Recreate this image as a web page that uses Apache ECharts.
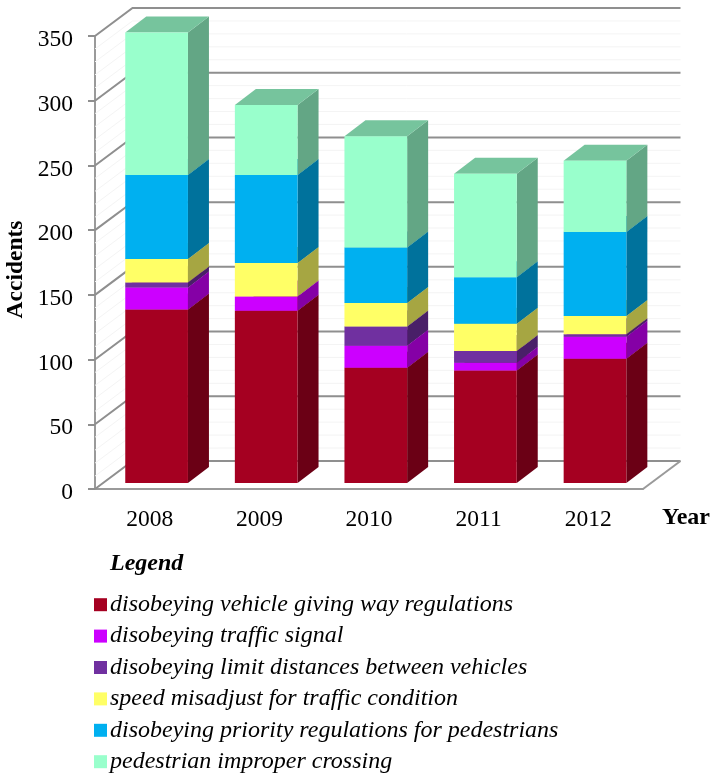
<!DOCTYPE html>
<html>
<head>
<meta charset="utf-8">
<title>Accidents</title>
<script src="https://cdn.jsdelivr.net/npm/echarts@6/dist/echarts.min.js"></script>
<style>
html, body { margin: 0; padding: 0; background: #fff; }
#chart { width: 713px; height: 777px; }
</style>
</head>
<body>
<div id="chart"></div>
<script>
const years = ['2008', '2009', '2010', '2011', '2012'];
const yTicks = [0, 50, 100, 150, 200, 250, 300, 350];
const yMinor = [10, 20, 30, 40, 60, 70, 80, 90, 110, 120, 130, 140, 160, 170, 180, 190, 210, 220, 230, 240, 260, 270, 280, 290, 310, 320, 330, 340];

const givingWay = [134, 133, 89, 87, 96];
const trafficSignal = [17, 11, 17, 6, 17];
const limitDistances = [4, 0, 15, 9, 2];
const speedMisadjust = [18, 26, 18, 21, 14];
const priorityPedestrians = [65, 68, 43, 36, 65];
const improperCrossing = [110, 54, 86, 80, 55];

const names = [
    'disobeying vehicle giving way regulations',
    'disobeying traffic signal',
    'disobeying limit distances between vehicles',
    'speed misadjust for traffic condition',
    'disobeying priority regulations for pedestrians',
    'pedestrian improper crossing'
];
const stacks = [givingWay, trafficSignal, limitDistances, speedMisadjust, priorityPedestrians, improperCrossing];
const colors = ['#A50021', '#CC00FF', '#7030A0', '#FFFF66', '#00B0F0', '#99FFCC'];

const serif = '"Liberation Serif", "Times New Roman", serif';

// depth of the box walls and of the bars, in pixels
const wallDx = 37.5, wallDy = 28;
const barDx = 21, barDy = 16;
// bars stand a bit behind the front edge of the floor
const barShiftX = 6.8, barShiftY = 6;
const barRatio = 0.572;

function shade(hex, f) {
    const n = parseInt(hex.slice(1), 16);
    const r = Math.round((n >> 16 & 255) * f);
    const g = Math.round((n >> 8 & 255) * f);
    const b = Math.round((n & 255) * f);
    return 'rgb(' + r + ',' + g + ',' + b + ')';
}

function renderWallLine(color, width) {
    return function (params, api) {
        const sys = params.coordSys;
        const y = api.coord([0, api.value(1)])[1];
        return {
            type: 'polyline',
            shape: {
                points: [[sys.x, y], [sys.x + wallDx, y - wallDy], [sys.x + sys.width + wallDx, y - wallDy]]
            },
            style: { fill: null, stroke: color, lineWidth: width }
        };
    };
}

function renderFloorEdge(params, api) {
    const sys = params.coordSys;
    const y = api.coord([0, 0])[1];
    return {
        type: 'polyline',
        shape: { points: [[sys.x + sys.width, y], [sys.x + sys.width + wallDx, y - wallDy]] },
        style: { fill: null, stroke: '#9a9a9a', lineWidth: 2 }
    };
}

function renderBox(color) {
    return function (params, api) {
        const i = api.value(0);
        const low = api.coord([i, api.value(1)]);
        const high = api.coord([i, api.value(2)]);
        const w = api.size([1, 0])[0] * barRatio;
        const x0 = low[0] - w / 2 + barShiftX;
        const x1 = x0 + w;
        const y0 = low[1] - barShiftY;
        const y1 = high[1] - barShiftY;
        return {
            type: 'group',
            children: [
                {
                    type: 'polygon',
                    shape: { points: [[x1, y0], [x1 + barDx, y0 - barDy], [x1 + barDx, y1 - barDy], [x1, y1]] },
                    style: { fill: shade(color, 0.65) }
                },
                {
                    type: 'polygon',
                    shape: { points: [[x0, y1], [x1, y1], [x1 + barDx, y1 - barDy], [x0 + barDx, y1 - barDy]] },
                    style: { fill: shade(color, 0.77) }
                },
                {
                    type: 'rect',
                    shape: { x: x0, y: y1, width: w, height: y0 - y1 },
                    style: { fill: color }
                }
            ]
        };
    };
}

const series = [
    {
        type: 'custom',
        silent: true,
        z: 1,
        renderItem: renderWallLine('#f4f4f4', 1),
        encode: { x: 0, y: 1 },
        data: yMinor.map(function (v) { return [0, v]; })
    },
    {
        type: 'custom',
        silent: true,
        z: 2,
        renderItem: renderWallLine('#8f8f8f', 2),
        encode: { x: 0, y: 1 },
        data: yTicks.map(function (v) { return [0, v]; })
    },
    {
        type: 'custom',
        silent: true,
        z: 2,
        renderItem: renderFloorEdge,
        encode: { x: 0, y: 1 },
        data: [[0, 0]]
    }
];

stacks.forEach(function (values, s) {
    series.push({
        name: names[s],
        type: 'custom',
        z: 3 + s,
        itemStyle: { color: colors[s] },
        renderItem: renderBox(colors[s]),
        encode: { x: 0, y: [1, 2] },
        data: values.map(function (v, i) {
            let base = 0;
            for (let k = 0; k < s; k++) base += stacks[k][i];
            return [i, base, base + v];
        }).filter(function (d) { return d[2] > d[1]; })
    });
});

const chart = echarts.init(document.getElementById('chart'), null, { renderer: 'canvas' });
chart.setOption({
    animation: false,
    backgroundColor: '#fff',
    title: {
        text: 'Legend',
        left: 110,
        top: 552,
        padding: 0,
        textStyle: { fontFamily: serif, fontSize: 24, fontWeight: 'bold', fontStyle: 'italic', color: '#000' }
    },
    legend: {
        orient: 'vertical',
        left: 94,
        top: 591.5,
        padding: 0,
        itemWidth: 13,
        itemHeight: 13,
        itemGap: 5,
        icon: 'rect',
        selectedMode: false,
        data: names,
        textStyle: { fontFamily: serif, fontSize: 24, fontStyle: 'italic', color: '#000', height: 26.4, lineHeight: 26.4, padding: [0, 0, 0, -2] }
    },
    grid: { left: 95, top: 36, width: 548, height: 453, outerBoundsMode: 'none' },
    xAxis: {
        type: 'category',
        data: years,
        name: 'Year',
        nameLocation: 'end',
        nameGap: 19,
        nameTextStyle: { fontFamily: serif, fontSize: 24, fontWeight: 'bold', color: '#000', verticalAlign: 'top', padding: [17, 0, 0, 0] },
        axisLine: { lineStyle: { color: '#9a9a9a', width: 2 } },
        axisTick: { show: false },
        axisLabel: { fontFamily: serif, fontSize: 23.5, color: '#000', margin: 19 }
    },
    yAxis: {
        type: 'value',
        min: 0,
        max: 350,
        interval: 50,
        name: 'Accidents',
        nameLocation: 'middle',
        nameRotate: 90,
        nameGap: 67,
        nameMoveOverlap: false,
        nameTextStyle: { fontFamily: serif, fontSize: 23.5, fontWeight: 'bold', color: '#000', padding: [0, 14, 0, 0] },
        axisLine: { show: true, lineStyle: { color: '#9a9a9a', width: 2 } },
        axisTick: { show: true, length: 7, lineStyle: { color: '#8f8f8f', width: 2 } },
        axisLabel: { fontFamily: serif, fontSize: 23.5, color: '#000', margin: 22, verticalAlign: 'top', padding: [-8, 0, 0, 0] },
        splitLine: { show: false }
    },
    series: series
});
</script>
</body>
</html>
